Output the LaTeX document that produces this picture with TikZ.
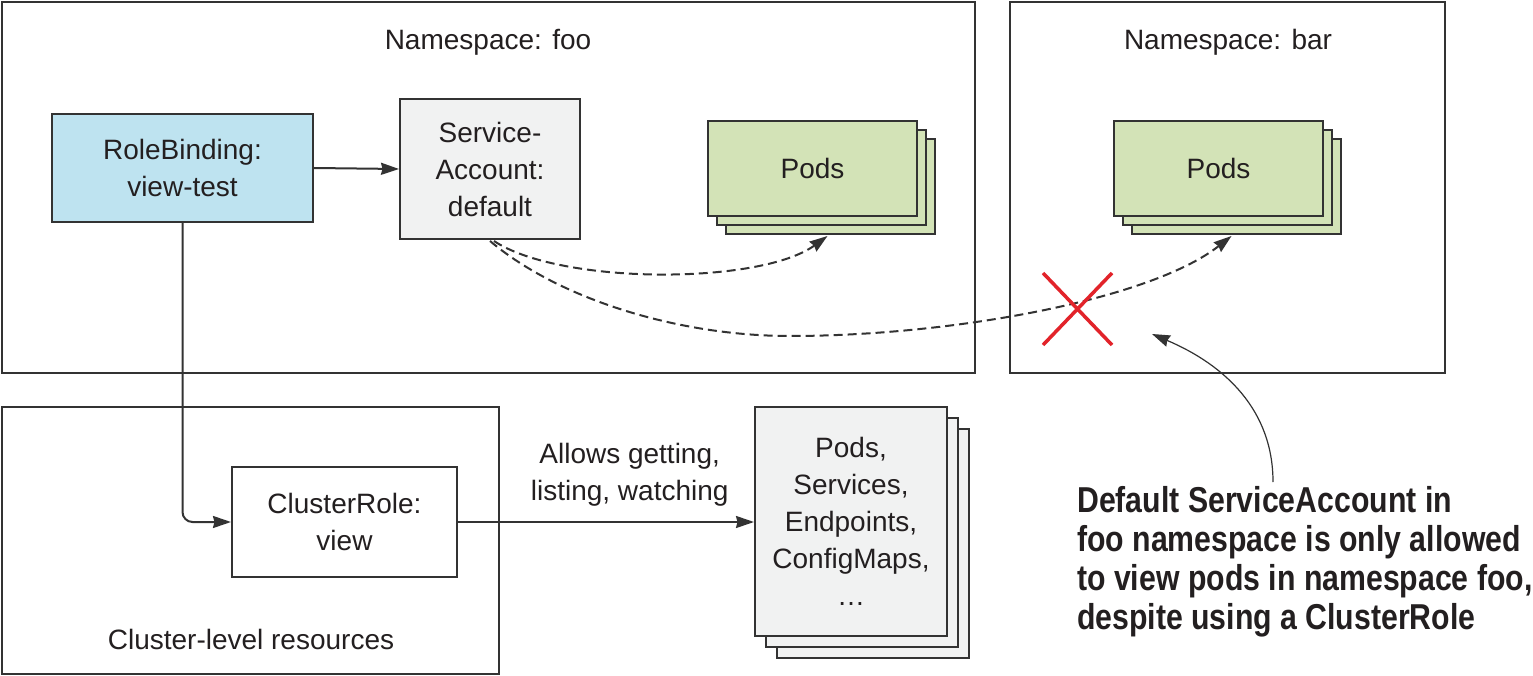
\documentclass[tikz,border=0pt]{standalone}
\usepackage{fontspec}
\setmainfont{Liberation Sans}
\newfontfamily\annotfont[FakeStretch=0.84]{Liberation Sans}
\usetikzlibrary{arrows.meta}
\definecolor{lc}{HTML}{333333}
\definecolor{tc}{HTML}{231F20}
\definecolor{bluefill}{HTML}{BEE3F0}
\definecolor{grayfill}{HTML}{F1F2F2}
\definecolor{greenfill}{HTML}{D3E3B7}
\definecolor{xred}{HTML}{E2232A}
\tikzset{
  basebox/.style={draw=lc, line width=2pt, inner sep=0pt, align=center, text=tc,
    font=\fontsize{28}{37}\selectfont},
  container/.style={basebox, fill=white},
  bluebox/.style={basebox, fill=bluefill},
  graybox/.style={basebox, fill=grayfill},
  greenbox/.style={basebox, fill=greenfill},
  lbl/.style={inner sep=0pt, align=center, text=tc, font=\fontsize{28}{37}\selectfont},
  tip/.style={-{Stealth[length=18pt,width=12pt,inset=1.5pt]}},
  arr/.style={draw=lc, line width=2pt, tip},
  dasharr/.style={draw=lc, line width=2pt, dash pattern=on 9pt off 5pt, tip},
  thinarr/.style={draw=lc, line width=1.2pt, -{Stealth[length=18pt,width=12pt,inset=1.5pt]}},
  redx/.style={draw=xred, line width=3.5pt},
  annot/.style={inner sep=0pt, align=left, text=tc, font=\annotfont\bfseries\fontsize{36}{39}\selectfont},
}
\begin{document}
\begin{tikzpicture}[x=1pt,y=-1pt]
\useasboundingbox (0,0) rectangle (1533,676);
% containers
\node[container, minimum width=973, minimum height=371] (foo) at (488.5,187.5) {};
\node[container, minimum width=435, minimum height=371] (bar) at (1227.5,187.5) {};
\node[container, minimum width=497, minimum height=267] (cluster) at (250.5,540.5) {};
\node[lbl, anchor=base] (foolbl) at (488,50) {Namespace: foo};
\node[lbl, anchor=base] (barlbl) at (1228,50) {Namespace: bar};
\node[lbl, anchor=base] (clulbl) at (251,649) {Cluster-level resources};
% boxes
\node[bluebox, minimum width=261, minimum height=108] (rb) at (182.5,168) {RoleBinding:\\view-test};
\node[graybox, minimum width=180, minimum height=140] (sa) at (490,169) {Service-\\Account:\\default};
\node[container, minimum width=225, minimum height=110] (cr) at (344.5,522) {ClusterRole:\\view};
% pods foo stack
\node[greenbox, minimum width=209, minimum height=95] (pods1c) at (830.5,186.5) {};
\node[greenbox, minimum width=209, minimum height=95] (pods1b) at (821.5,177.5) {};
\node[greenbox, minimum width=209, minimum height=95] (pods1) at (812.5,168.5) {Pods};
% pods bar stack
\node[greenbox, minimum width=209, minimum height=95] (pods2c) at (1236.5,186.5) {};
\node[greenbox, minimum width=209, minimum height=95] (pods2b) at (1227.5,177.5) {};
\node[greenbox, minimum width=209, minimum height=95] (pods2) at (1218.5,168.5) {Pods};
% resources stack
\node[graybox, minimum width=192, minimum height=229] (resc) at (873,543.5) {};
\node[graybox, minimum width=192, minimum height=229] (resb) at (862,532.5) {};
\node[graybox, minimum width=192, minimum height=229] (res) at (851,521.5) {Pods,\\Services,\\Endpoints,\\ConfigMaps,\\…};
% connectors
\draw[arr] (rb.east) -- (sa.west);
\draw[arr, rounded corners=10pt] (rb.south) |- (cr.west);
\draw[arr] (cr.east) -- node[lbl, pos=0.58, yshift=47pt] (allows) {Allows getting,\\listing, watching} ([yshift=-0.5pt]res.west);
\draw[dasharr] ([xshift=4pt,yshift=-1pt]sa.south) .. controls (560,285) and (760,285) .. ([xshift=-3pt,yshift=-1pt]pods1c.south);
\draw[dasharr] ([xshift=0pt,yshift=-1pt]sa.south) .. controls (560,300) and (680,336) .. (790,336)
  .. controls (950,336) and (1150,300) .. ([xshift=-5pt,yshift=-1pt]pods2c.south);
% red X
\draw[redx] (1043,273) -- (1112,345);
\draw[redx] (1112,273) -- (1043,345);
% annotation
\node[annot, anchor=west] (note) at (1077,562) {Default ServiceAccount in\\foo namespace is only allowed\\to view pods in namespace foo,\\despite using a ClusterRole};
\coordinate (astart) at (1273,482);
\coordinate (aend) at (1152,334);
\draw[thinarr] (astart) .. controls (1273,410) and (1225,365) .. (aend);
\end{tikzpicture}
\end{document}
